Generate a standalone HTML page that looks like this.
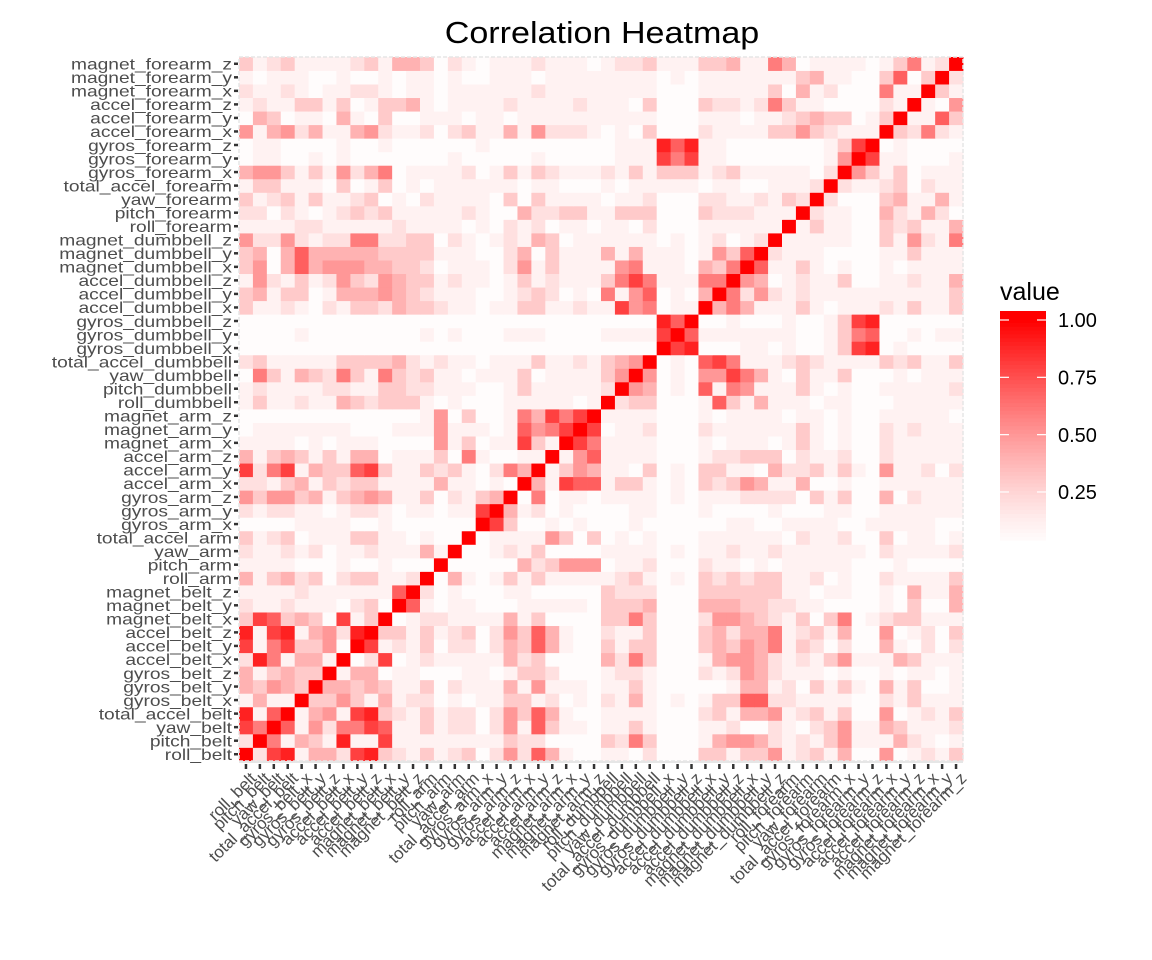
<!DOCTYPE html>
<html><head><meta charset="utf-8"><title>Correlation Heatmap</title>
<style>
html,body{margin:0;padding:0;background:#fff;}
svg{display:block;font-family:"Liberation Sans",Arial,sans-serif;}
</style></head>
<body>
<svg id="chart" width="1152" height="960" viewBox="0 0 1152 960" xmlns="http://www.w3.org/2000/svg">
<rect x="0" y="0" width="1152" height="960" fill="#fff"/>
<g transform="translate(602,43) scale(1.1,1)"><text text-anchor="middle" font-size="31" fill="#000">Correlation Heatmap</text></g>
<g id="panel"></g>
<g id="yaxis"></g>
<g id="xaxis"></g>
<g id="legend">
<text x="1000" y="300" font-size="25" fill="#000">value</text>
</g>
</svg>
<script>
const variables = ["roll_belt","pitch_belt","yaw_belt","total_accel_belt","gyros_belt_x","gyros_belt_y","gyros_belt_z","accel_belt_x","accel_belt_y","accel_belt_z","magnet_belt_x","magnet_belt_y","magnet_belt_z","roll_arm","pitch_arm","yaw_arm","total_accel_arm","gyros_arm_x","gyros_arm_y","gyros_arm_z","accel_arm_x","accel_arm_y","accel_arm_z","magnet_arm_x","magnet_arm_y","magnet_arm_z","roll_dumbbell","pitch_dumbbell","yaw_dumbbell","total_accel_dumbbell","gyros_dumbbell_x","gyros_dumbbell_y","gyros_dumbbell_z","accel_dumbbell_x","accel_dumbbell_y","accel_dumbbell_z","magnet_dumbbell_x","magnet_dumbbell_y","magnet_dumbbell_z","roll_forearm","pitch_forearm","yaw_forearm","total_accel_forearm","gyros_forearm_x","gyros_forearm_y","gyros_forearm_z","accel_forearm_x","accel_forearm_y","accel_forearm_z","magnet_forearm_x","magnet_forearm_y","magnet_forearm_z"];

// belt/arm block (rows 0-25 x cols 0-25)
const beltArmBlock = [
[1,.2,.8,.9,.1,.4,.4,.2,.8,.9,.3,.2,.1,.3,.1,.2,.3,0,.2,.5,.2,.7,.4,.1,0,0],
[.2,1,.6,.1,.4,.3,.1,.9,.1,.1,.8,.1,.1,.1,.1,.1,.1,.1,.1,.3,.2,.2,0,0,0,0],
[.8,.6,1,.7,.1,.5,.2,.6,.6,.8,.7,.1,.1,.3,.1,.2,.2,0,.2,.5,.1,.7,.3,.1,.1,0],
[.9,.1,.7,1,.1,.4,.5,.1,.8,.9,.3,.2,.1,.3,.1,.2,.2,0,.2,.5,.3,.7,.4,.1,0,0],
[.1,.4,.1,.1,1,.3,.3,.5,.3,.1,.4,.1,.2,.2,0,.1,0,.1,.1,.3,.3,.1,.2,0,.1,0],
[.4,.3,.5,.4,.3,1,.4,.4,.3,.4,.3,.1,.1,.3,0,.2,.1,.1,.1,.4,.1,.5,.1,.1,.1,0],
[.4,.1,.3,.4,.3,.3,1,.1,.4,.4,0,.1,.1,0,0,0,.1,.1,0,.1,.3,.3,.2,0,0,0],
[.2,.9,.6,.1,.4,.4,.1,1,0,.2,.8,0,.1,.2,.1,.1,.1,.1,.1,.4,.2,.3,0,0,0,0],
[.8,.1,.6,.8,.3,.3,.5,0,1,.8,.1,.2,.1,.3,0,.2,.2,0,.2,.4,.3,.7,.4,.1,0,0],
[.9,.1,.8,.9,.1,.4,.5,.2,.9,1,.3,.3,.1,.3,.1,.2,.3,0,.2,.5,.3,.7,.4,.1,0,0],
[.3,.8,.7,.3,.4,.3,0,.8,.1,.3,1,0,.1,.2,.2,.1,.1,.1,.1,.4,.1,.3,0,0,0,0],
[.2,.1,.1,.2,.1,.1,.1,0,.2,.3,0,1,.7,.1,0,.1,.1,0,0,0,.1,.1,.1,.1,.1,0],
[.1,.1,.1,.1,.2,.1,.1,.1,.1,.1,.1,.7,1,.2,0,.1,0,0,0,.1,.1,0,0,0,0,0],
[.4,.1,.3,.4,.2,.3,0,.2,.3,.3,.1,.1,.2,1,0,.4,.1,0,.1,.3,.1,.3,.1,.1,.1,.1],
[.1,.1,.1,.1,0,0,0,.1,0,0,.1,0,0,0,1,0,0,0,0,0,.4,.2,.3,.5,.5,.5],
[.2,.1,.1,.2,.1,.2,0,.1,.1,.2,.1,.1,.1,.4,.1,1,0,0,.1,.2,.1,.3,0,0,0,0],
[.3,.1,.2,.3,0,.1,.1,.1,.3,.3,.1,.1,0,.1,0,0,1,0,.1,.1,.1,.1,.5,.3,0,.3],
[0,0,0,0,.1,.1,.1,.1,0,0,.1,0,0,0,0,0,0,1,.8,.3,0,0,.1,0,.1,0],
[.2,.1,.2,.2,.1,.1,0,.1,.2,.2,.1,0,.1,.1,0,.1,.1,.8,1,.4,.1,.2,0,.1,0,0],
[.5,.3,.5,.5,.3,.4,.1,.3,.4,.5,.4,.1,.1,.3,0,.2,.1,.3,.4,1,0,.6,0,.1,.1,0],
[.2,.2,.1,.3,.4,.1,.3,.2,.3,.3,.1,.1,.1,.1,.4,.1,.1,0,.1,0,1,.4,.1,.8,.7,.7],
[.8,.2,.6,.8,.1,.4,.3,.3,.7,.8,.3,.1,.1,.3,.2,.3,.1,0,.2,.6,.4,1,.1,.3,.5,.4],
[.4,.1,.3,.4,.3,.1,.3,.1,.4,.4,0,.1,.1,.1,.3,0,.6,.1,0,0,.1,.1,1,.1,.5,.7],
[.1,.1,.1,.1,0,.1,0,.1,.1,.1,0,0,0,0,.5,.1,.3,0,.1,.1,.8,.3,.1,1,.8,.6],
[0,.1,.1,.1,.1,.1,.1,.1,0,0,0,.1,.1,.1,.5,.1,.1,.1,0,.1,.7,.5,.6,.8,1,.8],
[0,0,0,0,0,0,0,0,0,0,0,0,0,.1,.5,0,.3,0,0,.1,.6,.4,.8,.6,.8,1]
];

// cross block (rows 0-25 belt/arm x cols 26-51 dumbbell/forearm)
const crossBlock = [
[.1,.1,0,.2,0,0,0,.3,.3,.1,.3,.3,.5,.1,.2,.3,.1,.4,0,0,.5,0,.1,.2,.1,.3],
[.3,.2,.6,.3,0,0,0,.1,.4,.5,.5,.4,.2,.1,.2,.1,.3,.5,.1,.1,.1,.4,.2,.1,0,.1],
[.1,.1,.3,.1,0,0,0,.1,.1,.2,0,0,.2,.1,0,.2,.3,.5,.1,.1,.4,.3,.1,.1,.1,.2],
[.1,.1,.1,.1,0,0,0,.2,.3,.1,.4,.4,.5,.1,.2,.3,.1,.3,0,0,.5,0,.1,.2,.1,.3],
[.2,.1,.4,.1,0,.1,0,.1,.3,.3,.7,.7,.2,.2,.1,.1,.1,.1,0,0,.2,.1,.3,.1,.1,.1],
[.1,.1,.3,.1,0,0,0,0,0,.1,.4,.4,.1,.2,0,.3,.1,.3,.1,0,.4,.1,.3,0,0,.1],
[.1,.2,.2,.1,0,0,0,.2,.1,.2,.5,.4,.2,.1,.1,.1,0,.1,0,0,.1,0,.1,.1,0,.1],
[.4,.2,.6,.3,0,0,0,.1,.4,.5,.5,.4,.2,.1,.2,.1,.3,.5,.1,.1,.1,.4,.3,.1,.1,.1],
[.3,.1,.3,.3,0,0,0,.3,.4,.3,.5,.4,.6,.1,.3,.2,0,.2,0,0,.4,.1,0,.2,0,.2],
[.2,.1,.1,.3,0,0,0,.3,.4,.2,.4,.4,.6,.1,.2,.3,.1,.4,0,0,.5,0,.1,.2,0,.3],
[.3,.3,.6,.3,0,0,0,.2,.5,.5,.4,.3,.2,.1,.3,0,.3,.6,0,.1,.2,.3,.3,.1,.1,.1],
[.3,.3,.3,.4,0,0,0,.4,.4,.4,.3,.3,.2,.2,.1,.1,0,0,0,0,.1,0,.3,0,0,.4],
[.3,.2,.2,.2,0,0,0,.3,.3,.3,.3,.3,.3,.1,.1,0,.1,.1,0,0,.1,0,.4,.1,.1,.4],
[.1,.2,.3,.1,0,.1,0,.3,.2,.3,.2,.3,.3,.1,.1,.2,0,.1,0,0,.2,.1,.1,.1,.1,.3],
[0,.1,.1,.2,0,0,0,.2,.1,.1,0,.1,0,.1,.1,.1,.1,.1,0,0,0,.1,0,0,0,0],
[.1,.1,.1,.1,0,.1,0,.1,.1,.2,.1,.1,.2,.1,.1,.1,.1,.1,.1,0,.2,.1,.1,.1,.1,.2],
[0,.1,0,.1,0,0,0,.1,.1,.1,.1,.1,.1,0,.2,.1,.1,.2,0,0,.3,0,.1,.1,0,.1],
[0,0,.1,0,0,0,0,0,0,.1,.1,0,0,.1,.1,.1,.1,0,0,.1,.1,.1,.1,.1,0,0],
[0,0,.1,.1,0,0,0,.1,0,0,0,0,.1,0,0,0,.1,.1,0,0,.1,.1,.1,.1,.1,.1],
[.1,.1,.1,.1,0,.1,0,.1,.1,.1,.2,.2,.2,.2,0,.3,.1,.3,0,0,.4,0,.2,.1,.1,.1],
[.1,.3,.3,.1,0,.1,0,.3,.2,.3,.5,.4,.1,.1,.4,0,0,.1,0,0,.1,.1,.1,.1,.1,.1],
[.1,.1,0,.3,0,.1,0,.3,.3,.1,.1,0,.4,.2,.2,.3,.1,.3,.1,0,.5,.1,.1,.2,0,.2],
[.1,.1,.1,.1,0,0,0,.1,.2,.2,.3,.3,.3,0,.2,.1,.1,.2,0,0,.2,.1,.1,.1,.1,.1],
[.1,.1,.1,.1,0,0,0,.1,0,.1,.1,.1,0,.1,.3,.1,0,.1,0,0,.2,.1,.1,.1,.1,.1],
[0,.1,.1,.2,0,0,0,.2,.1,.1,.1,.1,.1,.1,.3,.1,0,.1,0,0,.2,.1,.2,.1,.1,.1],
[.1,.1,.1,.1,0,0,0,.1,0,.1,.1,.1,.1,0,.1,.1,0,.1,0,0,.1,.1,.1,.1,.1,0]
];

// dumbbell/forearm block (rows 26-51 x cols 26-51)
const dumbbellForearmBlock = [
[1,.2,.3,.3,0,0,0,.1,.7,.3,.1,.4,.1,.1,.1,0,.1,.1,0,0,0,.1,.1,.1,.1,.1],
[.2,1,.5,.4,0,.1,0,.7,.1,.6,.5,.1,.1,.1,.3,.1,0,.1,0,0,.1,.1,.1,.1,.1,.2],
[.3,.5,1,.5,0,.1,0,.5,.5,.8,.6,.4,.1,0,.3,.1,.1,.3,0,0,0,.1,0,.1,.1,.1],
[.3,.4,.5,1,0,.1,0,.7,.8,.6,.1,.1,.1,.2,.3,.2,.1,.1,.1,.1,.3,.2,.3,.1,.1,.3],
[0,0,0,0,1,.8,.9,0,0,0,.1,.1,0,.1,0,0,.1,.3,.8,.9,0,.1,0,0,0,0],
[.1,.1,.1,.1,.8,1,.7,.1,.1,.1,.1,.1,.1,.1,0,0,.1,.3,.6,.7,0,0,.1,0,.1,.1],
[0,0,0,0,.9,.7,1,0,0,.1,0,0,0,.1,0,0,.1,.3,.8,.9,0,0,0,0,0,0],
[.1,.8,.5,.6,0,.1,.1,1,.4,.6,.4,.1,.1,.1,.3,.1,0,.1,.1,.1,.2,.1,.3,.1,.1,.3],
[.6,.1,.5,.7,0,.1,0,.4,1,.6,.2,.5,.2,.1,.2,.1,.1,.1,.1,.1,.1,.1,.1,.1,.1,.3],
[.3,.6,.8,.6,.1,.1,.1,.6,.6,1,.5,.4,0,.1,.2,.1,.1,.3,0,0,.1,.1,.2,.1,.1,.4],
[.1,.5,.6,.1,.1,.1,0,.4,.3,.6,1,.7,.1,.1,.3,.1,0,.1,0,0,.1,0,.1,.1,.1,.1],
[.4,.1,.4,.1,.1,.1,0,.1,.5,.3,.7,1,.2,.1,.1,.1,0,0,0,0,.1,.1,.3,.1,.1,.1],
[.1,.1,.1,.1,0,.1,0,.1,.2,0,.1,.2,1,.1,.1,.1,.1,.1,0,0,.3,.1,.5,.2,.1,.6],
[.1,.1,0,.2,0,0,0,.1,.1,.1,.1,.1,.1,1,.1,.3,.1,.1,0,0,.3,.2,.3,.1,.1,.4],
[.1,.3,.3,.3,0,0,0,.3,.2,.2,.2,.1,.1,.1,1,.2,.1,.1,0,0,.4,.2,.1,.4,.2,0],
[0,.1,.1,.2,0,0,0,.2,.2,.1,.1,.2,.1,.3,.2,1,.2,0,0,0,.3,.4,.1,.1,.4,.1],
[.1,0,.1,.1,.1,.1,.1,0,.1,.1,0,0,.1,.1,.1,.2,1,.2,.1,.1,.2,.3,0,.2,.1,.1],
[.2,.1,.3,.1,.3,.3,.3,.1,.2,.3,.1,.1,.1,.1,.1,0,.2,1,.5,.3,.1,.3,0,.1,.1,.1],
[0,.1,.1,.1,.8,.6,.8,.1,.1,0,0,0,0,0,0,0,.1,.5,1,.8,.1,.1,0,0,0,.1],
[0,.1,.1,.1,.9,.7,.9,.1,.1,0,0,0,0,0,0,0,.1,.3,.8,1,0,.1,0,0,0,0],
[0,.1,0,.3,0,0,0,.2,.1,.1,.1,.1,.3,.3,.5,.3,.2,.1,.1,.1,1,.3,.2,.6,.2,.1],
[.1,.1,.1,.1,0,0,0,.1,.1,.1,0,.1,.1,.2,.3,.4,.3,.3,0,.1,.3,1,.1,.1,.7,.3],
[.1,.1,0,.3,0,0,0,.3,.2,.2,.1,.2,.6,.3,.1,.1,0,0,0,0,.2,.1,1,.1,0,.5],
[.1,.1,.1,.1,0,0,0,.1,.1,.1,.1,.1,.3,0,.4,.1,.2,0,0,0,.6,.1,.1,1,.3,.1],
[.1,.1,.1,.1,0,.1,0,.1,.1,.1,.1,.1,.1,.1,.3,.4,.1,.1,0,0,.3,.7,0,.3,1,.2],
[.1,.2,.2,.3,.1,.1,.1,.3,.3,.4,.1,.1,.6,.4,0,.1,.1,.1,.1,0,.1,.3,.6,.1,.2,1]
];

const legendTicks = [1.00, 0.75, 0.50, 0.25];
const legendTickLabels = ["1.00", "0.75", "0.50", "0.25"];
const legendRange = [0.04, 1.04];

const NS = "http://www.w3.org/2000/svg";
const X0 = 239, X1 = 963, Y0 = 57, Y1 = 761;
const N = variables.length;
const CW = (X1 - X0) / N, CH = (Y1 - Y0) / N;
const xScale = i => X0 + i * CW;
const yScale = i => Y1 - (i + 1) * CH;

function getValue(r, c) {
  const H = 26;
  if (r < H && c < H) return beltArmBlock[r][c];
  if (r < H && c >= H) return crossBlock[r][c - H];
  if (r >= H && c < H) return crossBlock[c][r - H];
  return dumbbellForearmBlock[r - H][c - H];
}
function fillColor(v) {
  v = Math.max(0.03, Math.min(1, Math.abs(v)));
  const g = Math.round(255 * (1 - Math.pow(v, 1.3)));
  return "rgb(255," + g + "," + g + ")";
}
function mk(tag, attrs, parent) {
  const el = document.createElementNS(NS, tag);
  for (const k in attrs) el.setAttribute(k, attrs[k]);
  parent.appendChild(el);
  return el;
}

const panel = document.getElementById("panel");
for (let r = 0; r < N; r++) {
  for (let c = 0; c < N; c++) {
    const v = getValue(r, c);
    const cell = mk("rect", {x: xScale(c).toFixed(2), y: yScale(r).toFixed(2), width: (CW + 0.4).toFixed(2), height: (CH + 0.4).toFixed(2), fill: fillColor(v)}, panel);
    
    
  }
}
const border = mk("rect", {x: X0, y: Y0, width: X1 - X0, height: Y1 - Y0, fill: "none", stroke: "#e6e6e6", "stroke-width": 1.5, "stroke-dasharray": "4,2"}, panel);


const bottomLine = mk("rect", {x: X0, y: Y1, width: X1 - X0, height: 2, fill: "#e6e6e6"}, panel);



const yaxis = document.getElementById("yaxis");
const xaxis = document.getElementById("xaxis");
for (let i = 0; i < N; i++) {
  const cy = yScale(i) + CH / 2;
  const yt = mk("line", {x1: X0 - 5, x2: X0 - 1, y1: cy, y2: cy, stroke: "#333", "stroke-width": 2.5}, yaxis);
  
  
  const g = mk("g", {transform: "translate(" + (X0 - 7) + "," + cy.toFixed(2) + ") scale(1.2,1)"}, yaxis);
  const t = mk("text", {x: 0, y: 0, dy: "0.36em", "text-anchor": "end", "font-size": 16, fill: "#4d4d4d"}, g);
  t.textContent = variables[i];
  
  

  const cx = xScale(i) + CW / 2;
  const xt = mk("line", {x1: cx, x2: cx, y1: Y1 + 3, y2: Y1 + 8, stroke: "#333", "stroke-width": 2.5}, xaxis);
  
  
  const xl = mk("text", {transform: "translate(" + (cx + 3).toFixed(2) + "," + (Y1 + 10) + ") rotate(-45)", dy: "0.7em", "text-anchor": "end", "font-size": 17, fill: "#4d4d4d"}, xaxis);
  xl.textContent = variables[i];
  
  
}

// legend colorbar
const legend = document.getElementById("legend");
const LB_X = 1000, LB_W = 46, LB_TOP = 311, LB_BOT = 541;
const lyScale = v => 320 + (1 - v) * 229.3;
const steps = 60;
for (let s = 0; s < steps; s++) {
  const v0 = legendRange[0] + (legendRange[1] - legendRange[0]) * s / steps;
  const v1 = legendRange[0] + (legendRange[1] - legendRange[0]) * (s + 1) / steps;
  const ya = Math.max(LB_TOP, lyScale(v1)), yb = Math.min(LB_BOT, lyScale(v0));
  if (yb <= ya) continue;
  const seg = mk("rect", {x: LB_X, y: ya.toFixed(2), width: LB_W, height: (yb - ya + 0.6).toFixed(2), fill: fillColor((v0 + v1) / 2)}, legend);
  
  
}
legendTicks.forEach((v, i) => {
  const y = lyScale(v);
  const tl = mk("line", {x1: LB_X, x2: LB_X + 9, y1: y, y2: y, stroke: "#fff", "stroke-width": 1.2}, legend);
  
  
  const tr = mk("line", {x1: LB_X + LB_W - 9, x2: LB_X + LB_W, y1: y, y2: y, stroke: "#fff", "stroke-width": 1.2}, legend);
  
  
  const lab = mk("text", {x: 1058, y: y, dy: "0.36em", "font-size": 20, fill: "#000"}, legend);
  lab.textContent = legendTickLabels[i];
  
  
});
</script>
</body></html>
